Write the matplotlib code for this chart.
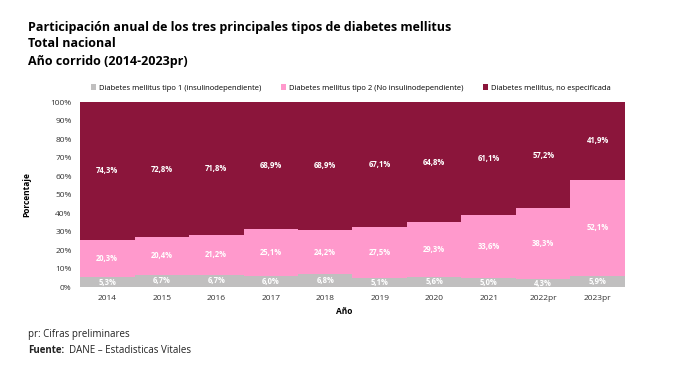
import numpy as np
import matplotlib.pyplot as plt

# Datos
anios = ["2014", "2015", "2016", "2017", "2018", "2019", "2020", "2021", "2022pr", "2023pr"]
tipo1 = [5.3, 6.7, 6.7, 6.0, 6.8, 5.1, 5.6, 5.0, 4.3, 5.9]
tipo2 = [20.3, 20.4, 21.2, 25.1, 24.2, 27.5, 29.3, 33.6, 38.3, 52.1]
no_esp = [74.3, 72.8, 71.8, 68.9, 68.9, 67.1, 64.8, 61.1, 57.2, 41.9]

series = [
    ("Diabetes mellitus tipo 1 (insulinodependiente)", tipo1, "#C0BFBF"),
    ("Diabetes mellitus tipo 2 (No insulinodependiente)", tipo2, "#FF99CC"),
    ("Diabetes mellitus, no especificada", no_esp, "#8B153B"),
]

plt.rcParams['font.family'] = ['Open Sans', 'DejaVu Sans']

fig = plt.figure(figsize=(6.88, 3.66), dpi=100)
ax = fig.add_axes([0.1163, 0.2158, 0.7921, 0.5055])

x = np.arange(len(anios))
# grafico 100% apilado: cada anio se lleva a 100
total = np.array(tipo1) + np.array(tipo2) + np.array(no_esp)
base = np.zeros(len(anios))
for nombre, vals, color in series:
    vals = np.array(vals)
    alto = vals / total * 100
    ax.bar(x, alto, bottom=base, width=1.0, color=color, label=nombre, linewidth=0)
    for xi, b, h, v in zip(x, base, alto, vals):
        ax.text(xi, b + h / 2, f"{v:.1f}%".replace(".", ","), ha="center", va="center",
                color="white", fontsize=5.5, fontweight="bold")
    base = base + alto

ax.set_xlim(-0.5, len(anios) - 0.5)
ax.set_ylim(0, 100)
ax.set_yticks(np.arange(0, 101, 10))
ax.set_yticklabels([f"{v}%" for v in range(0, 101, 10)])
ax.set_xticks(x)
ax.set_xticklabels(anios)
ax.tick_params(axis="both", length=0, labelsize=6, colors="#333333")
ax.tick_params(axis="x", pad=6)
ax.tick_params(axis="y", pad=6)
for s in ax.spines.values():
    s.set_visible(False)

ax.set_ylabel("Porcentaje", fontsize=6, fontweight="bold", labelpad=14)
fig.text(0.50, 0.15, "Año", fontsize=6, fontweight="bold", ha="center", va="center")

fig.legend(loc="center", bbox_to_anchor=(0.51, 0.76), ncol=3, fontsize=5.5, frameon=False,
           handlelength=0.7, handleheight=0.7, columnspacing=2.5, handletextpad=0.4)

# Titulos
fig.text(0.041, 0.926, "Participación anual de los tres principales tipos de diabetes mellitus",
         fontsize=9, fontweight="bold", va="center")
fig.text(0.041, 0.880, "Total nacional", fontsize=9, fontweight="bold", va="center")
fig.text(0.041, 0.833, "Año corrido (2014-2023pr)", fontsize=9, fontweight="bold", va="center")

# Notas
fig.text(0.041, 0.085, "pr: Cifras preliminares", fontsize=7, va="center", color="#222222")
fig.text(0.041, 0.043, "Fuente:", fontsize=7, va="center", color="#222222", fontweight="bold")
fig.text(0.101, 0.043, "DANE – Estadisticas Vitales", fontsize=7, va="center", color="#222222")

fig.savefig("out.png", dpi=100)
